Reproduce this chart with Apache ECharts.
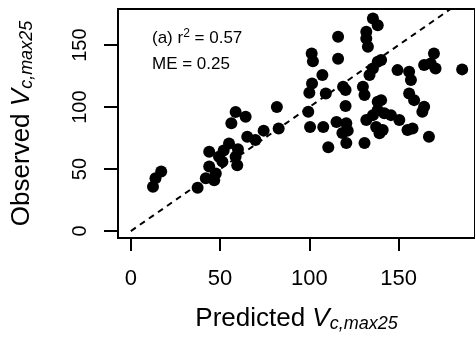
<!DOCTYPE html>
<html>
<head>
<meta charset="utf-8">
<script src="https://cdn.jsdelivr.net/npm/echarts@6/dist/echarts.min.js"></script>
<style>html,body{margin:0;padding:0;background:#fff}#c{width:475px;height:338px}</style>
</head>
<body>
<div id="c"></div>
<script>
// Predicted (x) and Observed (y) Vc,max25
var predicted = [12.4,13.8,17,37.4,42,46.7,47.6,43.9,51.3,49.4,43.9,58.7,59.6,55,56.3,58.7,64.3,65.2,69.8,74.4,81.8,82.8,52,60,
  102,116.1,107.3,101.5,100,109.2,120.3,120.3,99.4,100.4,107.8,115.2,118.5,121.5,120.7,110.6,120.7,130.9,101.3,116.1,
  135.6,138.3,131.9,131.9,132.8,138.3,135.6,133.7,118.9,130,130.9,138.3,135.6,142,131.9,139.3,140.2,169.8,168,164.3,
  170.7,185.6,149.4,155.9,156.9,155.9,158.7,164.3,163.3,140.2,138.3,145.7,150.4,141.1,155,157.8,167,137.4];
var observed = [35.7,42.5,48,35,42.5,41,46.5,52,56,60,64,60,53,70.7,87,96,92.2,76,73.4,81,100,82.8,65,66,
  137,139,125.8,119,111.5,111,113.7,100.8,96.2,84,84,88,79,81,86.9,67.5,71,71,143.3,156.7,
  171.5,166,160.7,155.4,148.6,136.5,131.2,125.8,116.4,116.4,109.7,104.3,93.5,95,89.5,78.8,137.9,143.3,135.2,133.9,
  131.2,130.4,129.8,128.5,121.8,111,105.6,100.2,96.2,105.6,97.6,93.5,89.5,81.5,81.5,82.8,76,84];
var tickLabels = [0, 50, 100, 150];
var oneToOne = [[0, 0], [200, 200]];
var annotation = ['(a) r{sup|2} = 0.57', 'ME = 0.25'];

var pts = predicted.map(function (x, i) { return [x, observed[i]]; });
var chart = echarts.init(document.getElementById('c'));
var font = 'Liberation Sans, Arial, Helvetica, sans-serif';
var nameRich = {
  n: {fontSize: 26, fontFamily: font, color: '#000'},
  i: {fontSize: 26, fontFamily: font, fontStyle: 'italic', color: '#000'},
  s: {fontSize: 18, fontFamily: font, fontStyle: 'italic', color: '#000', padding: [11, 0, 0, 0]}
};
chart.setOption({
  animation: false,
  grid: {left: 118, top: 9, right: -5, bottom: 100, show: true, borderColor: '#000', borderWidth: 2, backgroundColor: 'transparent'},
  xAxis: {
    type: 'value', min: -7.2, max: 192.8,
    splitLine: {show: false},
    axisLine: {show: true, onZero: false, lineStyle: {color: '#000', width: 2}},
    axisTick: {show: true, length: 13, lineStyle: {color: '#000', width: 2}, customValues: tickLabels},
    axisLabel: {customValues: tickLabels, fontSize: 22, fontFamily: font, color: '#000', margin: 30},
    name: '{n|Predicted }{i|V}{s|c,max25}', nameLocation: 'middle', nameGap: 66,
    nameTextStyle: {rich: nameRich}
  },
  yAxis: {
    type: 'value', min: -5.6, max: 179.1,
    splitLine: {show: false},
    axisLine: {show: true, onZero: false, lineStyle: {color: '#000', width: 2}},
    axisTick: {show: true, length: 14, lineStyle: {color: '#000', width: 2}, customValues: tickLabels},
    axisLabel: {customValues: tickLabels, fontSize: 20, fontFamily: font, color: '#000', margin: 28, rotate: 90},
    name: '{n|Observed }{i|V}{s|c,max25}', nameLocation: 'middle', nameGap: 82, nameRotate: 90,
    nameTextStyle: {rich: nameRich}
  },
  series: [
    {type: 'line', data: oneToOne, showSymbol: false, symbol: 'none', clip: true, silent: true,
     lineStyle: {color: '#000', width: 2, type: [6, 5]}},
    {type: 'scatter', data: pts, symbol: 'circle', symbolSize: 12, itemStyle: {color: '#000', opacity: 1}}
  ],
  graphic: [
    {type: 'text', left: 152, top: 28, style: {text: annotation[0], fontSize: 17, fontFamily: font, fill: '#000',
      rich: {sup: {fontSize: 12, fontFamily: font, fill: '#000', padding: [0, 0, 8, 0]}}}},
    {type: 'text', left: 152, top: 56, style: {text: annotation[1], fontSize: 17, fontFamily: font, fill: '#000'}}
  ]
});
</script>
</body>
</html>
